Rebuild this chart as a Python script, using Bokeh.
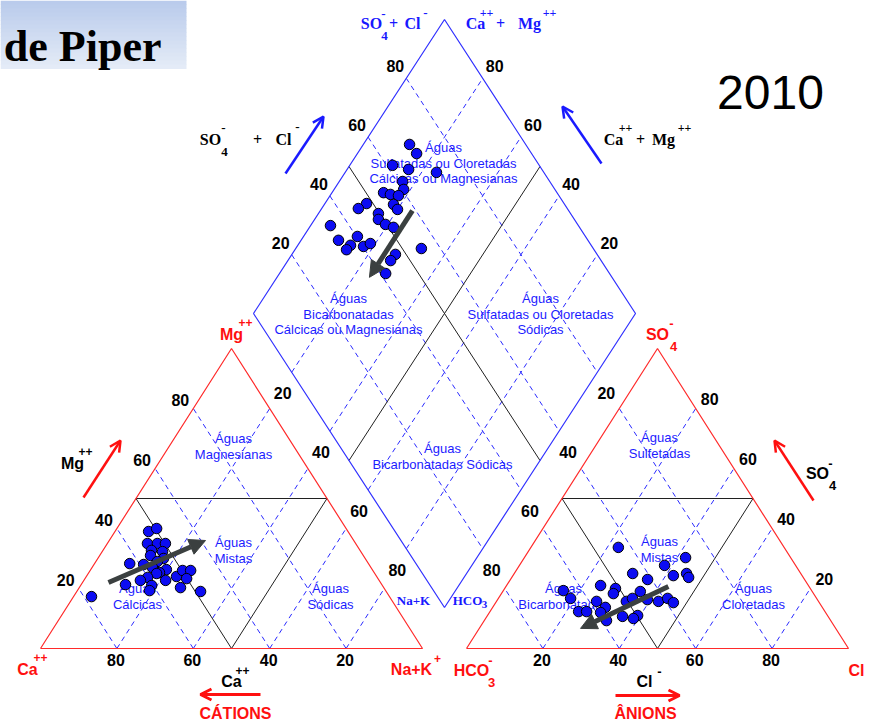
from collections import defaultdict
from bokeh.plotting import figure
from bokeh.models import Range1d, Arrow, NormalHead, OpenHead
from bokeh.core.properties import value
from bokeh.embed import file_html
from bokeh.resources import INLINE

# ---------------- data (percent of meq/L) ----------------
ticks = [20, 40, 60, 80]
cat_ca = [52.2, 49.6, 54.5, 51.9, 49.8, 54.6, 55.7, 51.9, 52.8, 54.9, 62.5, 59.0, 57.2, 53.9, 56.2,
          57.1, 60.1, 62.5, 60.4, 55.9, 52.4, 49.8, 47.7, 50.1, 53.2, 48.6, 61.8, 67.1, 78.0]
cat_mg = [39.0, 40.0, 35.0, 35.0, 35.0, 32.7, 31.0, 32.3, 30.0, 29.0, 28.3, 28.0, 27.0, 26.3, 25.3,
          25.0, 23.7, 22.7, 21.0, 22.7, 24.0, 26.0, 26.0, 23.3, 20.3, 19.0, 19.3, 21.3, 17.3]
an_cl = [22.9, 42.2, 38.0, 31.0, 42.0, 45.1, 46.3, 35.9, 24.6, 29.0, 29.3, 36.0, 15.7, 18.9, 26.2,
         34.0, 35.1, 39.2, 42.4, 44.3, 46.5, 29.5, 29.1, 23.2, 25.3, 39.3, 38.7, 35.5, 32.0]
an_so4 = [33.7, 30.3, 27.7, 25.0, 24.3, 25.0, 23.7, 23.0, 21.0, 20.0, 18.3, 19.0, 19.3, 16.7, 15.7,
          15.7, 16.7, 16.3, 15.7, 16.7, 15.3, 13.7, 12.0, 12.3, 12.3, 11.0, 10.0, 10.7, 9.3]
dia_nak = [12.1, 15.5, 11.2, 16.1, 23.9, 16.6, 18.2, 13.5, 15.6, 17.9, 18.1, 20.0, 10.9, 9.6, 15.7,
           16.7, 19.4, 22.0, 5.2, 9.8, 14.1, 13.8, 13.5, 17.4, 18.7, 32.9, 27.1, 26.9, 27.8]
dia_so4cl = [69.6, 69.9, 61.6, 65.1, 71.9, 61.5, 60.4, 54.6, 56.1, 58.0, 55.2, 55.4, 48.3, 45.3, 49.7,
             48.7, 49.7, 51.3, 35.1, 34.7, 40.3, 37.0, 35.2, 40.2, 42.5, 55.0, 47.2, 44.9, 41.4]
# trend arrows (start, end)
trend_cat = [(71.2, 22.0), (38.8, 36.0)]      # (Ca, Mg)
trend_an = [(42.5, 20.7), (26.5, 6.7)]        # (Cl, SO4)
trend_dia = [(24.1, 59.1), (24.2, 36.5)]      # (Na+K, SO4+Cl)

# ---------------- geometry ----------------
W, H = 382.0, 300.0
CX0, CY0 = 40.0, 648.0
AX0 = 466.0
DLX, DLY, DDX, DDY = 253.0, 313.0, 1.91, 2.94


def cat_xy(ca, mg):
    nak = 100 - ca - mg
    return CX0 + (nak + mg / 2) / 100 * W, CY0 - mg / 100 * H


def an_xy(cl, so4):
    return AX0 + (cl + so4 / 2) / 100 * W, CY0 - so4 / 100 * H


def dia_xy(nak, s):
    return DLX + DDX * (nak + s), DLY + DDY * (nak - s)


p = figure(width=869, height=723, x_range=Range1d(0, 869), y_range=Range1d(723, 0),
           output_backend="svg", toolbar_location=None, min_border=0)
p.axis.visible = False
p.grid.visible = False
p.outline_line_color = None
p.title.visible = False
p.background_fill_color = "white"

# title box with gradient
n = 17
top_c, bot_c = (186, 203, 236), (228, 235, 247)
for i in range(n):
    t = i / (n - 1)
    col = "#%02x%02x%02x" % tuple(int(a + (b - a) * t) for a, b in zip(top_c, bot_c))
    p.quad(left=0, right=186, top=i * 68 / n, bottom=(i + 1) * 68 / n + 0.5,
           fill_color=col, line_color=None)

BLUE_DASH = "#2a2aff"
dxs, dys, kxs, kys = [], [], [], []


def seg(f, a, b, xs, ys):
    x1, y1 = f(*a)
    x2, y2 = f(*b)
    xs.append([x1, x2])
    ys.append([y1, y2])


for v in ticks:
    seg(cat_xy, (v, 0), (v, 100 - v), dxs, dys)
    seg(cat_xy, (100 - v, 0), (0, 100 - v), dxs, dys)
    seg(an_xy, (v, 0), (v, 100 - v), dxs, dys)
    seg(an_xy, (100 - v, 0), (0, 100 - v), dxs, dys)
    seg(dia_xy, (v, 0), (v, 100), dxs, dys)
    seg(dia_xy, (0, v), (100, v), dxs, dys)
p.multi_line(dxs, dys, line_color=BLUE_DASH, line_width=1, line_dash="5 4")

seg(cat_xy, (50, 50), (0, 50), kxs, kys)
seg(cat_xy, (50, 0), (50, 50), kxs, kys)
seg(cat_xy, (50, 0), (0, 50), kxs, kys)
seg(an_xy, (0, 50), (50, 50), kxs, kys)
seg(an_xy, (50, 0), (50, 50), kxs, kys)
seg(an_xy, (50, 0), (0, 50), kxs, kys)
seg(dia_xy, (50, 0), (50, 100), kxs, kys)
seg(dia_xy, (0, 50), (100, 50), kxs, kys)
p.multi_line(kxs, kys, line_color="#202020", line_width=1)

# outlines
lt = [cat_xy(100, 0), cat_xy(0, 0), cat_xy(0, 100), cat_xy(100, 0)]
rt = [an_xy(0, 0), an_xy(100, 0), an_xy(0, 100), an_xy(0, 0)]
dm = [dia_xy(0, 0), dia_xy(100, 0), dia_xy(100, 100), dia_xy(0, 100), dia_xy(0, 0)]
for poly, col in ((lt, "#ff2a2a"), (rt, "#ff2a2a"), (dm, "#3030ff")):
    p.line([q[0] for q in poly], [q[1] for q in poly], line_color=col, line_width=1.2)

# ---------------- texts ----------------
groups = defaultdict(lambda: {"x": [], "y": [], "t": []})


def lab(x, y, t, size=16, color="black", font="Liberation Sans", style="bold"):
    g = groups[(size, color, font, style)]
    g["x"].append(x)
    g["y"].append(y)
    g["t"].append(t)


for v in ticks:
    x, y = cat_xy(v, 0); lab(x - 1, y + 11, str(v))
    x, y = cat_xy(100 - v, v); lab(x - 13, y - 9, str(v))
    x, y = an_xy(v, 0); lab(x - 1, y + 11, str(v))
    x, y = an_xy(100 - v, v); lab(x + 14, y - 10, str(v))
    x, y = dia_xy(0, v); lab(x - 11, y - 12, str(v))
    x, y = dia_xy(100 - v, 100); lab(x + 12, y - 12, str(v))
    x, y = dia_xy(v, 0); lab(x - 9, y + 21, str(v))
    x, y = dia_xy(100, 100 - v); lab(x + 9, y + 21, str(v))

RED = "#ff1010"
# red corner labels
lab(231, 334, "Mg", color=RED); lab(245, 322, "++", 12, RED)
lab(27, 669, "Ca", color=RED); lab(40, 657, "++", 12, RED)
lab(411, 669, "Na+K", color=RED); lab(437, 658, "+", 12, RED)
lab(657, 334, "SO", color=RED); lab(673, 346, "4", 13, RED); lab(671, 323, "-", 13, RED)
lab(471, 670, "HCO", color=RED); lab(491, 682, "3", 13, RED); lab(490, 660, "-", 13, RED)
lab(856, 670, "Cl", color=RED)
lab(235, 713, "CÁTIONS", color=RED)
lab(645, 713, "ÂNIONS", color=RED)

# black axis labels
lab(231, 681, "Ca"); lab(242, 670, "++", 12)
lab(644, 681, "Cl"); lab(659, 671, "-", 13)
lab(72, 463, "Mg"); lab(85, 451, "++", 12)
lab(817, 473, "SO"); lab(832, 485, "4", 13); lab(830, 463, "-", 13)

SERIF = "Liberation Serif"
lab(210, 139, "SO", font=SERIF); lab(224, 151, "4", 13, font=SERIF); lab(223, 127, "-", 13, font=SERIF)
lab(257, 139, "+", font=SERIF); lab(283, 139, "Cl", font=SERIF); lab(297, 126, "-", 13, font=SERIF)
lab(613, 139, "Ca", font=SERIF); lab(625, 127, "++", 12, font=SERIF); lab(640, 139, "+", font=SERIF)
lab(663, 139, "Mg", font=SERIF); lab(684, 127, "++", 12, font=SERIF)

BL = "#1818ff"
lab(371, 23, "SO", color=BL, font=SERIF); lab(384, 35, "4", 13, BL, SERIF); lab(383, 13, "-", 13, BL, SERIF)
lab(393, 23, "+", color=BL, font=SERIF); lab(412, 23, "Cl", color=BL, font=SERIF); lab(425, 12, "-", 13, BL, SERIF)
lab(475, 23, "Ca", color=BL, font=SERIF); lab(486, 12, "++", 12, BL, SERIF); lab(500, 23, "+", color=BL, font=SERIF)
lab(529, 23, "Mg", color=BL, font=SERIF); lab(549, 12, "++", 12, BL, SERIF)
lab(413, 600, "Na+K", 13, BL, SERIF)
lab(467, 600, "HCO", 13, BL, SERIF); lab(484, 604, "3", 11, BL, SERIF)

# region names
regions = [
    (233, 438, ["Águas", "Magnesianas"]),
    (233, 542, ["Águas", "Mistas"]),
    (137, 588, ["Águas", "Cálcicas"]),
    (330, 588, ["Águas", "Sódicas"]),
    (659, 437, ["Águas", "Sulfetadas"]),
    (659, 541, ["Águas", "Mistas"]),
    (563, 588, ["Águas", "Bicarbonatadas"]),
    (753, 588, ["Águas", "Cloretadas"]),
    (443, 147, ["Águas", "Sulfatadas ou Cloretadas", "Cálcicas ou Magnesianas"]),
    (348, 298, ["Águas", "Bicarbonatadas", "Cálcicas ou Magnesianas"]),
    (540, 298, ["Águas", "Sulfatadas ou Cloretadas", "Sódicas"]),
    (442, 448, ["Águas", "Bicarbonatadas Sódicas"]),
]
for x, y, lines in regions:
    for i, s in enumerate(lines):
        lab(x, y + i * 15.7, s, 13, "#1c1cff", "Liberation Sans", "normal")

lab(770, 92, "2010", 48, "black", "Liberation Sans", "normal")

for (size, color, font, style), g in groups.items():
    p.text(x=g["x"], y=g["y"], text=g["t"], text_font=value(font), text_font_size=f"{size}px",
           text_font_style=style, text_color=color, text_align="center", text_baseline="middle")

p.text(x=[161], y=[46], text=["de Piper"], text_font=value("Liberation Serif"),
       text_font_size="44px", text_font_style="bold", text_color="black",
       text_align="right", text_baseline="alphabetic")

# annotation arrows
def arrow(x0, y0, x1, y1, col, lw, size):
    p.add_layout(Arrow(end=OpenHead(size=size, line_color=col, line_width=lw),
                       x_start=x0, y_start=y0, x_end=x1, y_end=y1,
                       line_color=col, line_width=lw))


arrow(83, 497, 120, 440, RED, 2.5, 11)
arrow(813, 500, 774, 440, RED, 2.5, 11)
arrow(260, 694, 200, 694, RED, 3, 11)
arrow(615, 695, 679, 695, RED, 3, 11)
arrow(285, 173, 323, 116, "#1a1aff", 2.5, 11)
arrow(601, 163, 562, 106, "#1a1aff", 2.5, 11)

# ---------------- data points ----------------
cx, cy = zip(*[cat_xy(a, b) for a, b in zip(cat_ca, cat_mg)])
ax, ay = zip(*[an_xy(a, b) for a, b in zip(an_cl, an_so4)])
qx, qy = zip(*[dia_xy(a, b) for a, b in zip(dia_nak, dia_so4cl)])
PT = "#0c0cf2"
for xs, ys in ((cx, cy), (ax, ay), (qx, qy)):
    p.scatter(list(xs), list(ys), size=10.5, fill_color=PT, line_color="black", line_width=1)

GR = "#3b4040"
for f, tr in ((cat_xy, trend_cat), (an_xy, trend_an), (dia_xy, trend_dia)):
    x0, y0 = f(*tr[0])
    x1, y1 = f(*tr[1])
    p.add_layout(Arrow(end=NormalHead(size=16, fill_color=GR, line_color=GR),
                       x_start=x0, y_start=y0, x_end=x1, y_end=y1,
                       line_color=GR, line_width=5))

open("out.html", "w").write(file_html(p, INLINE))
